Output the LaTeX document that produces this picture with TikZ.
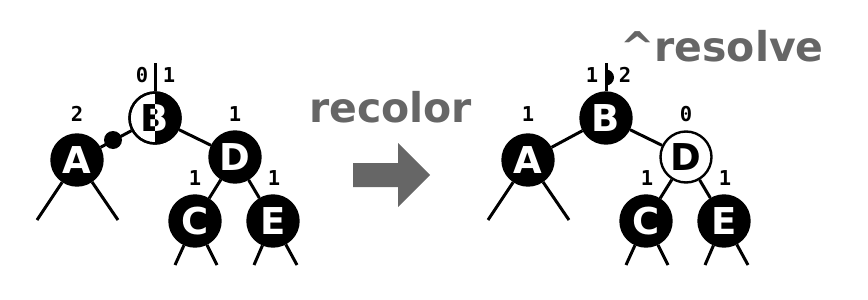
\documentclass[tikz,border=0pt]{standalone}
\usepackage{fontspec}
\setmainfont{DejaVu Sans}
\newfontfamily\digitfont{DejaVu Sans Mono}
\definecolor{opgray}{HTML}{666666}
\tikzset{
  rbnode/.style={circle, minimum size=51pt, inner sep=0pt, line width=2.4pt,
    font=\fontsize{37}{37}\selectfont\bfseries},
  blacknode/.style={rbnode, draw=black, fill=black, text=white},
  whitenode/.style={rbnode, draw=black, fill=white, text=black},
  dotnode/.style={circle, fill=black, minimum size=18pt, inner sep=0pt},
  height/.style={inner sep=0pt, text depth=0pt,
    font=\digitfont\fontsize{20.5}{20.5}\selectfont\bfseries},
  edge/.style={line width=3pt},
  optext/.style={inner sep=0pt, anchor=base west, text=opgray, text depth=0pt,
    font=\fontsize{41}{41}\selectfont\bfseries},
}
\begin{document}
\begin{tikzpicture}[x=1pt, y=-1pt]
\useasboundingbox (0,0) rectangle (868,300);

% ---------- tree before recolouring ----------
\node[blacknode] (lA) at (77,160) {A};
\node[whitenode] (lB) at (155,118) {};
\node[blacknode] (lD) at (235,157) {D};
\node[blacknode] (lC) at (195,221) {C};
\node[blacknode] (lE) at (273,221) {E};

% B is half red, half black: right half filled, letter split
\begin{scope}
  \clip (155,80) rectangle (190,150);
  \fill (lB.center) circle[radius=26pt];
\end{scope}
\begin{scope}
  \clip (120,80) rectangle (155,150);
  \node[rbnode, text=black] at (lB.center) {B};
\end{scope}
\begin{scope}
  \clip (155,80) rectangle (190,150);
  \node[rbnode, text=white] at (lB.center) {B};
\end{scope}
\draw[line width=2.4pt] (lB.center) circle[radius=25.5pt];

\coordinate (ltop) at (155,63);
\coordinate (lAl) at (37,220);
\coordinate (lAr) at (118,220);
\coordinate (lCl) at (175,265);
\coordinate (lCr) at (217,265);
\coordinate (lEl) at (254,265);
\coordinate (lEr) at (297,265);

\draw[edge] (ltop) -- (lB.north);
\draw[edge] (lA) -- (lB);
\draw[edge] (lB) -- (lD);
\draw[edge] (lD) -- (lC);
\draw[edge] (lD) -- (lE);
\draw[edge] (lA) -- (lAl);
\draw[edge] (lA) -- (lAr);
\draw[edge] (lC) -- (lCl);
\draw[edge] (lC) -- (lCr);
\draw[edge] (lE) -- (lEl);
\draw[edge] (lE) -- (lEr);
% extra black on the edge A--B
\node[dotnode] (ldot) at (113,140) {};

\node[height] (lh0) at (142,75) {0};
\node[height] (lh1) at (169,75) {1};
\node[height] (lhA) at (77,114) {2};
\node[height] (lhD) at (235,114) {1};
\node[height] (lhC) at (195,178) {1};
\node[height] (lhE) at (274,178) {1};

% ---------- operation ----------
\node[optext] (recolor) at (309,122) {recolor};
\fill[opgray] (353,163) -- (398,163) -- (398,143) -- (430,175)
  -- (398,207) -- (398,187) -- (353,187) -- cycle;

% ---------- tree after recolouring ----------
\node[blacknode] (rA) at (528,160) {A};
\node[blacknode] (rB) at (606,118) {B};
\node[whitenode] (rD) at (686,157) {D};
\node[blacknode] (rC) at (646,221) {C};
\node[blacknode] (rE) at (724,221) {E};

\coordinate (rtop) at (606,63);
\coordinate (rAl) at (488,220);
\coordinate (rAr) at (569,220);
\coordinate (rCl) at (626,265);
\coordinate (rCr) at (668,265);
\coordinate (rEl) at (705,265);
\coordinate (rEr) at (748,265);

\draw[edge] (rtop) -- (rB.north);
% black pushed up to the parent edge
\begin{scope}
  \clip (606,60) rectangle (620,100);
  \fill (606,77.5) circle[radius=8pt];
\end{scope}
\draw[edge] (rA) -- (rB);
\draw[edge] (rB) -- (rD);
\draw[edge] (rD) -- (rC);
\draw[edge] (rD) -- (rE);
\draw[edge] (rA) -- (rAl);
\draw[edge] (rA) -- (rAr);
\draw[edge] (rC) -- (rCl);
\draw[edge] (rC) -- (rCr);
\draw[edge] (rE) -- (rEl);
\draw[edge] (rE) -- (rEr);

\node[height] (rh1) at (592,75) {1};
\node[height] (rh2) at (625,75) {2};
\node[height] (rhA) at (528,114) {1};
\node[height] (rhD) at (686,114) {0};
\node[height] (rhC) at (647,178) {1};
\node[height] (rhE) at (725,178) {1};

\node[optext] (resolve) at (620,61) {\^{}resolve};
\end{tikzpicture}
\end{document}
